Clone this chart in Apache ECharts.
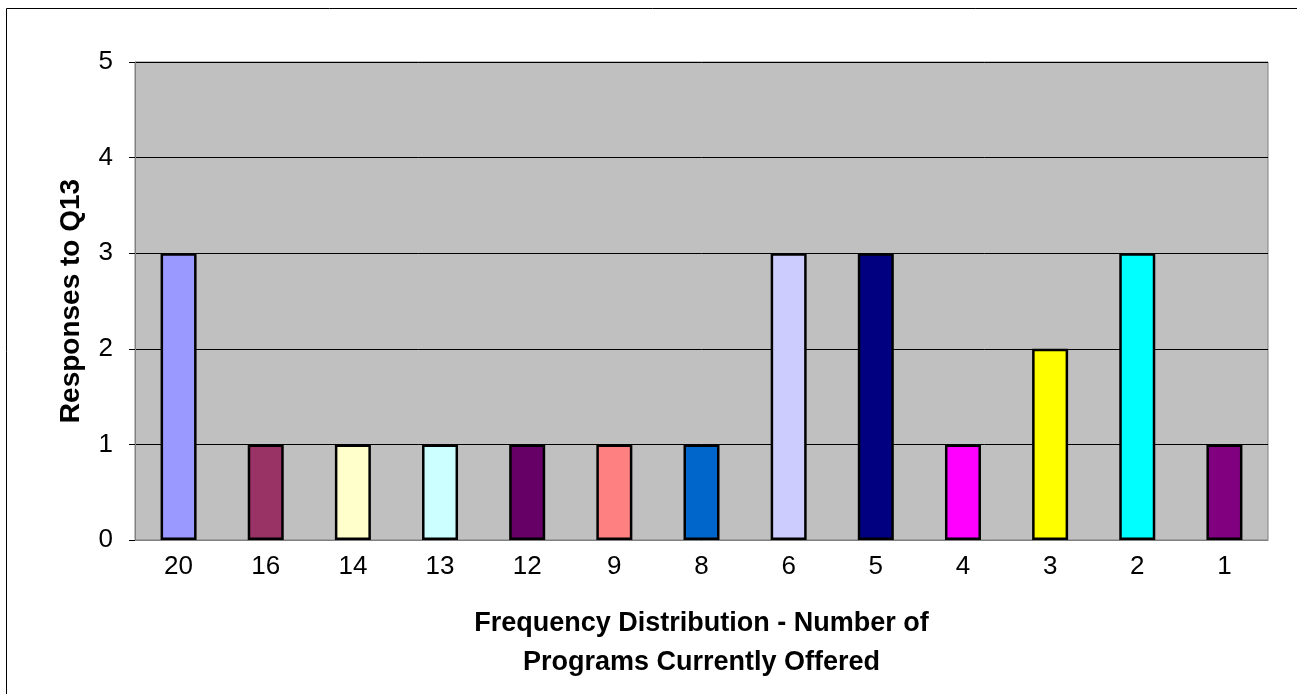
<!DOCTYPE html>
<html>
<head>
<meta charset="utf-8">
<script src="https://cdn.jsdelivr.net/npm/echarts@6/dist/echarts.min.js"></script>
<style>
  html, body { margin: 0; padding: 0; background: #fff; }
  #chart { width: 1297px; height: 694px; }
</style>
</head>
<body>
<div id="chart"></div>
<script>
// Number of programs offered (category labels, left to right)
const categories = ['20', '16', '14', '13', '12', '9', '8', '6', '5', '4', '3', '2', '1'];
// Count of responses per category
const responses = [3, 1, 1, 1, 1, 1, 1, 3, 3, 1, 2, 3, 1];
// Fill colour of each bar
const barColors = ['#9999FF', '#993366', '#FFFFCC', '#CCFFFF', '#660066', '#FF8080', '#0066CC',
                   '#CCCCFF', '#000080', '#FF00FF', '#FFFF00', '#00FFFF', '#800080'];
// Value axis ticks
const yTicks = [0, 1, 2, 3, 4, 5];

const yTitle = 'Responses to Q13';
const xTitle = 'Frequency Distribution - Number of\nPrograms Currently Offered';

const FONT = '"Liberation Sans", Arial, sans-serif';

const chart = echarts.init(document.getElementById('chart'));
chart.setOption({
  animation: false,
  backgroundColor: '#ffffff',
  grid: {
    left: 135, top: 62, width: 1133, height: 478,
    show: true,
    backgroundColor: '#C0C0C0',
    borderColor: '#808080',
    borderWidth: 1
  },
  graphic: [{
    type: 'rect',
    shape: { x: 6.5, y: 8.5, width: 1400, height: 800 },
    style: { fill: 'none', stroke: '#000', lineWidth: 1 },
    silent: true
  }],
  xAxis: {
    type: 'category',
    data: categories,
    axisLine: { show: true, lineStyle: { color: '#808080', width: 1 } },
    axisTick: { show: false },
    axisLabel: { color: '#000', fontFamily: FONT, fontSize: 26, margin: 14 },
    name: xTitle,
    nameLocation: 'middle',
    nameGap: 64,
    nameTextStyle: { color: '#000', fontFamily: FONT, fontSize: 27, fontWeight: 'bold', lineHeight: 39 }
  },
  yAxis: {
    type: 'value',
    min: yTicks[0],
    max: yTicks[yTicks.length - 1],
    interval: 1,
    axisLine: { show: true, lineStyle: { color: '#808080', width: 1 } },
    axisTick: { show: true, length: 6, lineStyle: { color: '#000' } },
    axisLabel: { color: '#000', fontFamily: FONT, fontSize: 26, margin: 22 },
    splitLine: { show: true, lineStyle: { color: '#000', width: 1 } },
    name: yTitle,
    nameLocation: 'middle',
    nameGap: 50,
    nameTextStyle: { color: '#000', fontFamily: FONT, fontSize: 28, fontWeight: 'bold' }
  },
  series: [{
    type: 'bar',
    barWidth: 36,
    data: responses.map((v, i) => ({
      value: v,
      itemStyle: { color: barColors[i], borderColor: '#000', borderWidth: 2.5 }
    }))
  }]
});
</script>
</body>
</html>
